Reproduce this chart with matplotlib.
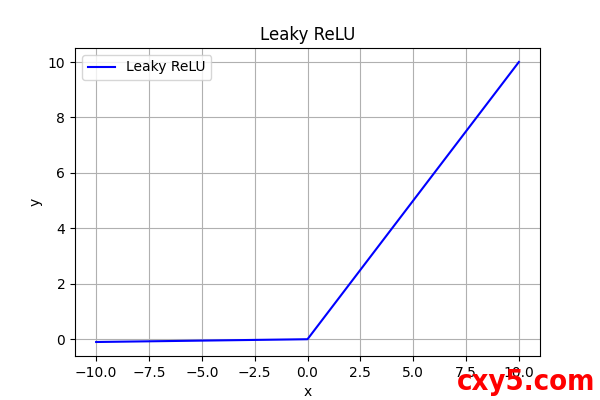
import matplotlib
matplotlib.use("Agg")
import matplotlib.pyplot as plt

# Leaky ReLU, slope 0.01 on the negative side
x = [-10.0, 0.0, 10.0]
y = [-0.1, 0.0, 10.0]

fig, ax = plt.subplots(figsize=(6, 4), dpi=100)
ax.plot(x, y, color="blue", label="Leaky ReLU")
ax.set_title("Leaky ReLU")
ax.set_xlabel("x")
ax.set_ylabel("y")
ax.grid(True)
ax.legend(loc="upper left")

# watermark
fig.text(0.993, 0.01, "cxy5.com", color="red", fontsize=21, fontweight="bold",
         family="DejaVu Sans", fontstretch="condensed", ha="right", va="bottom")

fig.savefig("out.png")
